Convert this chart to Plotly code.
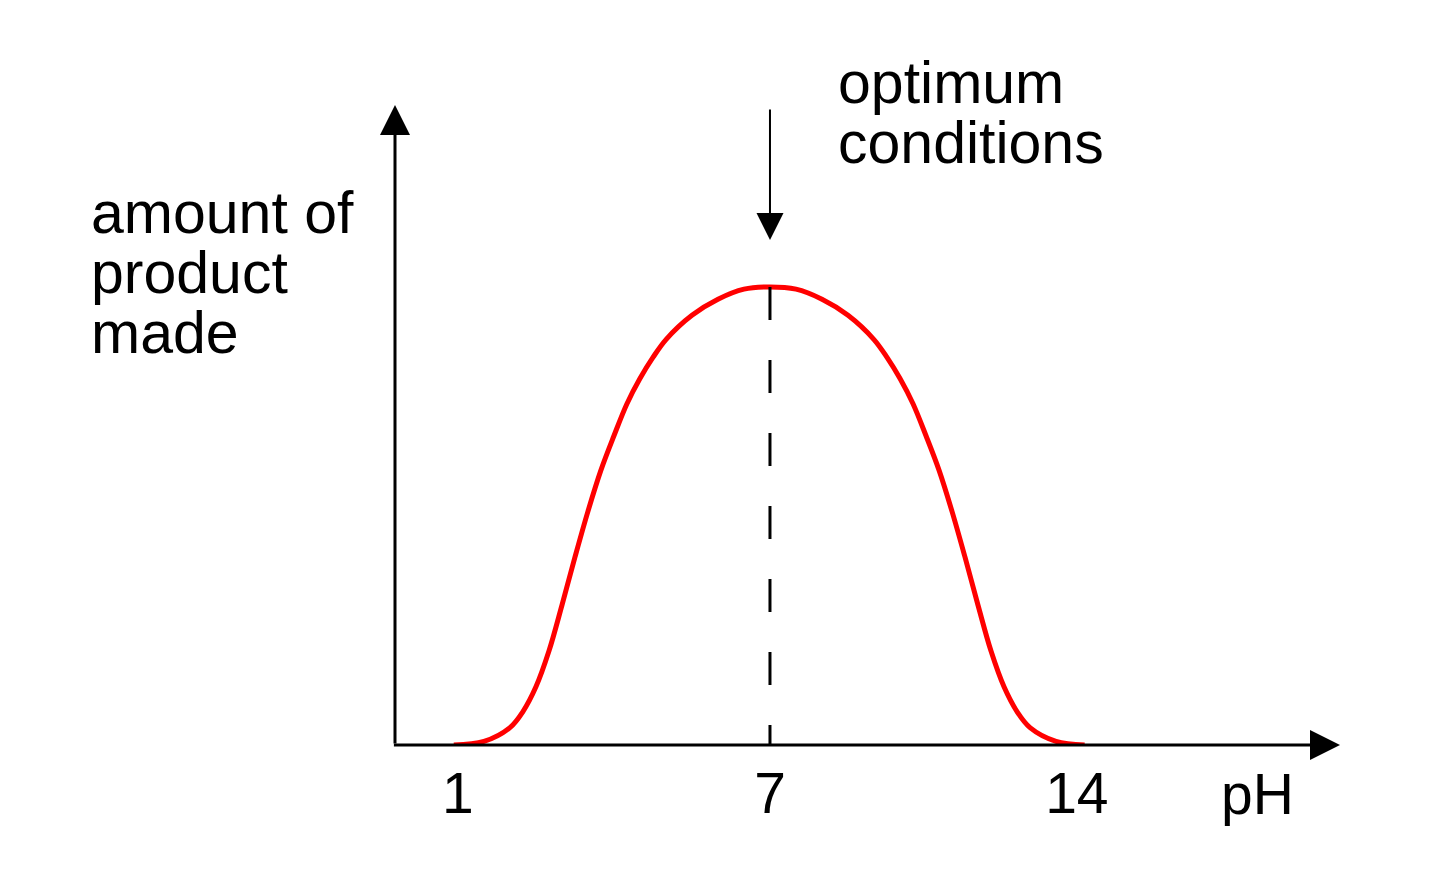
import plotly.graph_objects as go

# ---- data (schematic pH positions) ----
ph = [0.92, 1.5, 2.0, 2.25, 2.5, 2.75, 3.0, 3.25, 3.5, 3.75, 4.0, 4.25, 4.5, 4.75, 5.0, 5.5, 6.0, 6.5,
      7.0,
      7.5, 8.0, 8.5, 9.0, 9.25, 9.5, 9.75, 10.0, 10.25, 10.5, 10.75, 11.0, 11.25, 11.5, 11.75, 12.0,
      12.5, 13.05]
amount = [0.0, 0.8, 3.8, 7.3, 12.7, 20.5, 30.5, 41.0, 51.0, 60.0, 67.5, 74.5, 80.0, 84.6, 88.5, 93.8,
          97.3, 99.5,
          100.0,
          99.5, 97.3, 93.8, 88.5, 84.6, 80.0, 74.5, 67.5, 60.0, 51.0, 41.0, 30.5, 20.5, 12.7, 7.3, 3.8,
          0.8, 0.0]
tick_positions = [1, 7, 12.9]
tick_labels = ["1", "7", "14"]
optimum_ph = 7
peak_amount = 100

FONT = "Liberation Sans, Arial, sans-serif"
FS_TICK = 57
FS_TEXT = 59

# page offset of the plot div (browser body margin)
OFF = 8
W, H = 1424, 860
# plot area in page pixels: left 395, right 1340, top 105, bottom 745
L, R, T, B = 395 - OFF, 1340 - OFF, 105 - OFF, 745 - OFF
x_min, x_max = -0.21, 17.96
y_min, y_max = 0, 139.7

def px_x(p):
    return (p - OFF - L) / (R - L)

def px_y(p):
    return (B - (p - OFF)) / (B - T)

fig = go.Figure()
fig.add_trace(go.Scatter(x=ph, y=amount, mode="lines",
                         line=dict(color="#ff0000", width=5, shape="spline", smoothing=1.0),
                         hoverinfo="skip", showlegend=False, cliponaxis=False))

shapes = [
    dict(type="line", xref="x", yref="y", x0=optimum_ph, x1=optimum_ph, y0=peak_amount, y1=0,
         line=dict(color="black", width=3, dash="33px,40px")),
]

annotations = [
    # y axis with arrow
    dict(x=x_min, y=y_max, ax=x_min, ay=0, xref="x", yref="y", axref="x", ayref="y",
         showarrow=True, arrowhead=2, arrowsize=2.0, arrowwidth=3, arrowcolor="black", text=""),
    # x axis with arrow
    dict(x=x_max, y=0, ax=x_min - 0.05, ay=0, xref="x", yref="y", axref="x", ayref="y",
         showarrow=True, arrowhead=2, arrowsize=2.0, arrowwidth=3, arrowcolor="black", text=""),
    # optimum arrow
    dict(x=optimum_ph, y=px_y(240), ax=optimum_ph, ay=px_y(108), xref="x", yref="y domain",
         axref="x", ayref="y domain",
         showarrow=True, arrowhead=2, arrowsize=2.7, arrowwidth=2, arrowcolor="black", text=""),
]

texts = [
    ("optimum", 836, 103),
    ("conditions", 836, 163),
    ("amount of", 89, 233),
    ("product", 89, 293),
    ("made", 89, 353),
]
for t, xp, base in texts:
    annotations.append(dict(text=t, x=px_x(xp), y=px_y(base - 20), xref="paper", yref="paper",
                            xanchor="left", yanchor="middle", showarrow=False,
                            font=dict(family=FONT, size=FS_TEXT, color="black")))
annotations.append(dict(text="pH", x=px_x(1257), y=px_y(815 - 21), xref="paper", yref="paper",
                        xanchor="center", yanchor="middle", showarrow=False,
                        font=dict(family=FONT, size=FS_TICK, color="black")))

fig.update_layout(
    width=W, height=H,
    margin=dict(l=L, r=W - R, t=T, b=H - B, pad=0),
    paper_bgcolor="white", plot_bgcolor="white",
    shapes=shapes, annotations=annotations,
    xaxis=dict(range=[x_min, x_max], showgrid=False, zeroline=False, showline=False,
               tickmode="array", tickvals=tick_positions, ticktext=tick_labels, ticks="",
               tickfont=dict(family=FONT, size=FS_TICK, color="black"), ticklabelstandoff=10,
               fixedrange=True),
    yaxis=dict(range=[y_min, y_max], showgrid=False, zeroline=False, showline=False,
               showticklabels=False, ticks="", fixedrange=True),
    showlegend=False,
)

fig.write_html("out.html")
